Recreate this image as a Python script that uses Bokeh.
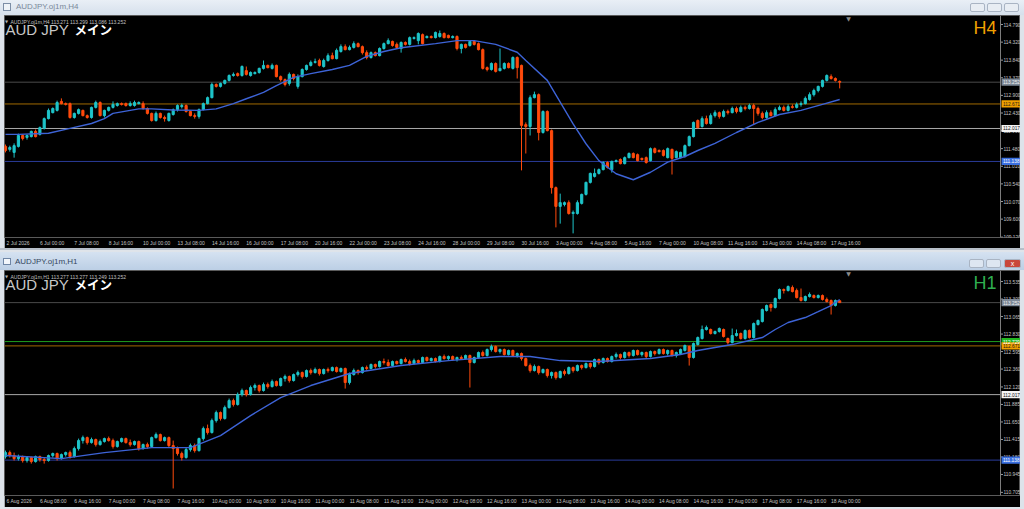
from bokeh.plotting import figure
from bokeh.models import ColumnDataSource, Range1d, FixedTicker, Span, Div
from bokeh.layouts import column
from bokeh.embed import file_html
from bokeh.resources import INLINE
from bokeh.core.properties import value

# ------------------------------------------------------------------ data
# H4 chart (AUDJPY), 195 bars
top_open = [
 111.54,111.46,111.38,111.54,111.83,111.78,111.80,111.94,111.86,112.02,
 112.28,112.44,112.50,112.74,112.68,112.68,112.31,112.42,112.50,112.36,
 112.31,112.58,112.71,112.36,112.50,112.58,112.63,112.68,112.68,112.63,
 112.63,112.68,112.68,112.55,112.42,112.23,112.42,112.31,112.23,112.39,
 112.52,112.60,112.63,112.47,112.36,112.34,112.52,112.68,112.84,113.19,
 113.14,113.22,113.30,113.43,113.48,113.43,113.56,113.43,113.48,113.51,
 113.62,113.70,113.62,113.70,113.40,113.32,113.22,113.46,113.14,113.40,
 113.59,113.70,113.78,113.83,113.67,113.83,113.96,113.88,114.07,114.20,
 114.12,114.18,114.28,114.20,114.04,113.91,114.04,113.96,114.15,114.28,
 114.34,114.26,114.15,114.31,114.26,114.42,114.36,114.52,114.44,114.47,
 114.44,114.47,114.55,114.50,114.44,114.47,114.15,114.26,114.23,114.34,
 114.28,114.12,113.64,113.59,113.75,113.56,113.62,113.75,113.62,113.91,
 113.70,112.12,112.07,112.84,112.92,111.91,112.47,111.96,110.44,109.94,
 109.99,110.04,109.75,109.75,110.02,110.26,110.58,110.74,110.82,110.92,
 111.11,110.92,111.14,111.19,111.08,111.24,111.35,111.32,111.22,111.24,
 111.16,111.48,111.43,111.43,111.24,111.46,111.24,111.24,111.27,111.56,
 111.80,112.23,112.07,112.28,112.15,112.36,112.44,112.34,112.47,112.44,
 112.55,112.47,112.58,112.55,112.63,112.55,112.42,112.31,112.44,112.36,
 112.52,112.58,112.50,112.60,112.58,112.66,112.68,112.79,112.92,113.03,
 113.14,113.30,113.40,113.35,113.271]
top_high = [
 111.59,111.56,111.62,111.88,111.86,111.86,111.96,111.99,112.07,112.31,
 112.55,112.58,112.76,112.82,112.71,112.71,112.44,112.55,112.52,112.39,
 112.60,112.76,112.74,112.52,112.60,112.74,112.71,112.71,112.71,112.74,
 112.76,112.74,112.74,112.58,112.44,112.47,112.44,112.36,112.44,112.55,
 112.66,112.68,112.66,112.50,112.42,112.55,112.71,112.87,113.24,113.22,
 113.24,113.32,113.46,113.51,113.51,113.70,113.67,113.54,113.54,113.64,
 113.83,113.72,113.75,113.72,113.43,113.35,113.51,113.48,113.46,113.62,
 113.72,113.83,113.88,113.88,113.88,114.02,114.04,114.15,114.26,114.26,
 114.23,114.34,114.31,114.23,114.10,114.07,114.07,114.18,114.31,114.42,
 114.36,114.31,114.34,114.34,114.47,114.47,114.58,114.55,114.50,114.50,
 114.60,114.63,114.58,114.52,114.50,114.50,114.28,114.28,114.36,114.36,
 114.31,114.15,113.67,113.78,113.78,114.15,113.78,113.78,113.94,113.94,
 113.72,112.18,112.90,113.00,112.95,112.50,112.50,111.99,110.47,110.28,
 110.07,110.10,109.83,110.10,110.28,110.60,110.84,110.95,110.95,111.14,
 111.14,111.16,111.19,111.22,111.27,111.38,111.38,111.35,111.24,111.27,
 111.51,111.51,111.46,111.46,111.51,111.48,111.43,111.40,111.59,111.83,
 112.20,112.26,112.34,112.36,112.42,112.50,112.47,112.52,112.52,112.60,
 112.60,112.63,112.63,112.68,112.68,112.60,112.47,112.50,112.50,112.58,
 112.63,112.63,112.66,112.66,112.71,112.74,112.87,112.98,113.08,113.16,
 113.32,113.46,113.46,113.38,113.299]
top_low = [
 111.38,111.40,111.24,111.51,111.70,111.72,111.78,111.78,111.83,111.99,
 112.26,112.42,112.47,112.66,112.63,112.28,112.28,112.39,112.34,112.28,
 112.28,112.55,112.34,112.31,112.47,112.55,112.60,112.63,112.60,112.60,
 112.60,112.66,112.52,112.39,112.20,112.20,112.28,112.20,112.20,112.36,
 112.47,112.55,112.44,112.34,112.28,112.28,112.50,112.66,112.82,113.11,
 113.11,113.19,113.27,113.40,113.40,113.40,113.43,113.40,113.46,113.48,
 113.59,113.62,113.59,113.38,113.27,113.14,113.16,113.30,113.08,113.38,
 113.56,113.67,113.75,113.67,113.64,113.80,113.86,113.86,114.04,114.10,
 114.10,114.15,114.18,113.99,113.86,113.88,113.94,113.94,114.12,114.26,
 114.20,114.15,114.04,114.23,114.23,114.39,114.26,114.26,114.42,114.42,
 114.42,114.44,114.42,114.42,114.42,114.10,114.02,114.15,114.20,114.23,
 114.10,113.59,113.54,113.56,113.51,113.54,113.59,113.62,113.59,113.35,
 110.90,111.35,111.83,112.82,111.70,111.88,111.94,110.28,109.38,109.48,
 109.94,109.72,109.22,109.72,109.99,110.23,110.55,110.71,110.79,110.90,
 110.95,110.84,111.11,111.06,111.06,111.22,111.22,111.14,111.16,111.08,
 111.14,111.35,111.38,111.27,111.22,110.79,111.22,111.22,111.24,111.54,
 111.78,112.02,112.04,112.12,112.12,112.31,112.28,112.31,112.39,112.42,
 112.42,112.44,112.50,112.52,112.12,112.36,112.26,112.28,112.34,112.34,
 112.50,112.47,112.47,112.55,112.55,112.60,112.66,112.76,112.87,112.98,
 113.11,113.27,113.32,113.27,113.086]
top_close = [
 111.43,111.51,111.56,111.83,111.75,111.83,111.94,111.80,112.04,112.28,
 112.50,112.55,112.71,112.68,112.66,112.31,112.42,112.52,112.36,112.31,
 112.58,112.71,112.36,112.50,112.58,112.66,112.68,112.66,112.63,112.68,
 112.71,112.71,112.55,112.42,112.23,112.42,112.31,112.28,112.42,112.52,
 112.63,112.63,112.47,112.36,112.34,112.52,112.68,112.84,113.19,113.14,
 113.22,113.30,113.43,113.46,113.43,113.67,113.46,113.51,113.51,113.62,
 113.70,113.64,113.70,113.40,113.32,113.19,113.46,113.35,113.40,113.59,
 113.70,113.78,113.80,113.70,113.83,113.96,113.88,114.10,114.20,114.12,
 114.18,114.28,114.20,114.04,113.91,114.04,113.96,114.15,114.28,114.36,
 114.23,114.18,114.31,114.26,114.44,114.44,114.55,114.28,114.47,114.44,
 114.58,114.55,114.44,114.44,114.47,114.15,114.26,114.18,114.34,114.26,
 114.12,113.62,113.59,113.75,113.54,113.62,113.75,113.64,113.91,113.64,
 112.10,112.07,112.84,112.92,111.91,112.47,111.96,110.44,109.94,110.04,
 110.04,109.75,109.78,110.04,110.26,110.58,110.82,110.82,110.92,111.11,
 110.98,111.14,111.16,111.08,111.24,111.35,111.24,111.16,111.19,111.11,
 111.48,111.38,111.40,111.30,111.48,111.22,111.40,111.38,111.56,111.80,
 112.18,112.04,112.28,112.15,112.36,112.44,112.34,112.47,112.44,112.55,
 112.47,112.58,112.55,112.63,112.55,112.42,112.31,112.44,112.36,112.52,
 112.58,112.50,112.60,112.58,112.66,112.68,112.82,112.92,113.03,113.14,
 113.30,113.43,113.35,113.30,113.252]
top_ma_idx = [0, 3, 10, 15, 20, 23, 25, 28, 31, 34, 39, 45, 49, 53, 56, 60, 63, 67, 71, 76, 80, 84, 88, 92,
              100, 105, 109, 114, 119, 121, 126, 129, 132, 135, 138, 142, 146, 150, 154, 158, 161, 165,
              170, 175, 180, 185, 190, 194]
top_ma_val = [111.86, 111.86, 111.89, 112.02, 112.15, 112.28, 112.42, 112.48, 112.54, 112.54, 112.51, 112.50,
              112.54, 112.68, 112.81, 112.98, 113.16, 113.38, 113.48, 113.59, 113.70, 113.94, 114.07, 114.17,
              114.28, 114.36, 114.36, 114.26, 114.05, 113.83, 113.30, 112.72, 112.14, 111.61, 111.16, 110.81,
              110.65, 110.85, 111.12, 111.27, 111.43, 111.62, 111.91, 112.18, 112.39, 112.50, 112.66, 112.79]
top_yticks = [114.790, 114.320, 113.840, 113.370, 112.900, 112.430, 111.960, 111.480, 111.010,
              110.540, 110.070, 109.600, 109.120]
top_time_idx = [0] + [8 * k for k in range(1, 25)]
top_time_labels = ["2 Jul 2026", "6 Jul 00:00", "7 Jul 08:00", "8 Jul 16:00", "10 Jul 00:00", "13 Jul 08:00",
                   "14 Jul 16:00", "16 Jul 00:00", "17 Jul 08:00", "20 Jul 16:00", "22 Jul 00:00",
                   "23 Jul 08:00", "24 Jul 16:00", "28 Jul 00:00", "29 Jul 08:00", "30 Jul 16:00",
                   "3 Aug 00:00", "4 Aug 08:00", "5 Aug 16:00", "7 Aug 00:00", "10 Aug 08:00",
                   "11 Aug 16:00", "13 Aug 00:00", "14 Aug 08:00", "17 Aug 16:00"]
top_levels = [113.252, 112.671, 112.017, 111.138]
top_header = "AUDJPY.oj1m,H4  113.271 113.299 113.086 113.252"

# H1 chart (AUDJPY), 195 bars
bot_open = [
 111.185,111.239,111.199,111.158,111.185,111.132,111.172,111.118,111.185,111.145,
 111.132,111.199,111.226,111.158,111.212,111.239,111.185,111.293,111.400,111.440,
 111.373,111.414,111.346,111.387,111.427,111.400,111.320,111.387,111.427,111.373,
 111.346,111.387,111.293,111.346,111.320,111.440,111.481,111.400,111.440,111.333,
 111.293,111.226,111.172,111.279,111.333,111.266,111.427,111.561,111.508,111.669,
 111.776,111.696,111.843,111.937,111.884,112.018,112.072,112.018,112.112,112.139,
 112.072,112.152,112.125,112.192,112.139,112.233,112.260,112.206,112.286,112.313,
 112.260,112.340,112.313,112.354,112.300,112.354,112.340,112.380,112.327,112.367,
 112.179,112.286,112.340,112.313,112.380,112.367,112.421,112.394,112.461,112.448,
 112.407,112.461,112.434,112.488,112.461,112.434,112.474,112.448,112.515,112.474,
 112.501,112.461,112.528,112.501,112.528,112.488,112.515,112.501,112.542,112.448,
 112.515,112.582,112.542,112.622,112.662,112.595,112.622,112.555,112.609,112.542,
 112.568,112.501,112.407,112.340,112.394,112.313,112.354,112.273,112.313,112.246,
 112.327,112.300,112.380,112.340,112.407,112.380,112.434,112.394,112.488,112.448,
 112.501,112.461,112.528,112.555,112.515,112.582,112.542,112.609,112.555,112.582,
 112.528,112.595,112.568,112.622,112.568,112.609,112.542,112.568,112.609,112.662,
 112.515,112.689,112.770,112.891,112.891,112.837,112.864,112.891,112.770,112.716,
 112.810,112.837,112.770,112.877,112.783,112.958,112.998,113.146,113.226,113.186,
 113.307,113.428,113.414,113.455,113.414,113.320,113.280,113.334,113.347,113.320,
 113.347,113.294,113.280,113.213,113.277]
bot_high = [
 111.266,111.266,111.239,111.212,111.199,111.185,111.185,111.199,111.199,111.172,
 111.212,111.239,111.239,111.226,111.252,111.266,111.320,111.427,111.467,111.454,
 111.440,111.427,111.414,111.440,111.454,111.427,111.400,111.440,111.440,111.414,
 111.400,111.400,111.360,111.373,111.454,111.508,111.494,111.454,111.454,111.400,
 111.320,111.252,111.306,111.360,111.360,111.440,111.588,111.615,111.696,111.803,
 111.790,111.870,111.964,111.964,112.045,112.098,112.085,112.139,112.166,112.152,
 112.179,112.179,112.219,112.206,112.246,112.286,112.273,112.300,112.340,112.327,
 112.354,112.367,112.380,112.367,112.367,112.380,112.394,112.394,112.380,112.380,
 112.313,112.367,112.354,112.394,112.407,112.434,112.434,112.474,112.501,112.488,
 112.474,112.474,112.501,112.515,112.488,112.501,112.488,112.528,112.528,112.515,
 112.515,112.542,112.555,112.542,112.542,112.528,112.542,112.555,112.555,112.528,
 112.595,112.609,112.636,112.689,112.676,112.636,112.636,112.622,112.622,112.582,
 112.582,112.515,112.434,112.421,112.407,112.367,112.367,112.327,112.327,112.340,
 112.354,112.394,112.394,112.421,112.421,112.448,112.448,112.501,112.501,112.515,
 112.515,112.542,112.582,112.568,112.595,112.595,112.622,112.622,112.595,112.595,
 112.609,112.609,112.636,112.636,112.622,112.622,112.595,112.636,112.689,112.676,
 112.716,112.797,112.944,112.944,112.904,112.877,112.918,112.904,112.783,112.904,
 112.891,112.850,112.891,112.891,112.985,113.025,113.173,113.226,113.240,113.320,
 113.441,113.441,113.482,113.482,113.441,113.441,113.347,113.388,113.361,113.361,
 113.361,113.320,113.294,113.294,113.277]
bot_low = [
 111.158,111.172,111.132,111.132,111.105,111.105,111.091,111.105,111.118,111.091,
 111.118,111.172,111.132,111.145,111.185,111.158,111.172,111.266,111.360,111.346,
 111.360,111.320,111.333,111.373,111.387,111.293,111.306,111.373,111.360,111.320,
 111.333,111.266,111.279,111.293,111.306,111.427,111.387,111.387,111.306,110.757,
 111.199,111.132,111.158,111.252,111.239,111.252,111.400,111.481,111.494,111.642,
 111.669,111.682,111.830,111.857,111.870,111.991,111.991,112.004,112.072,112.045,
 112.058,112.098,112.112,112.125,112.125,112.192,112.179,112.192,112.260,112.233,
 112.246,112.286,112.300,112.273,112.286,112.313,112.327,112.313,112.313,112.098,
 112.152,112.273,112.286,112.300,112.340,112.354,112.367,112.380,112.421,112.394,
 112.394,112.421,112.421,112.448,112.407,112.421,112.434,112.434,112.461,112.461,
 112.448,112.448,112.488,112.474,112.474,112.461,112.488,112.488,112.112,112.434,
 112.501,112.528,112.528,112.595,112.582,112.568,112.542,112.542,112.528,112.515,
 112.474,112.394,112.313,112.327,112.286,112.300,112.246,112.233,112.219,112.233,
 112.273,112.286,112.313,112.327,112.354,112.367,112.367,112.380,112.421,112.434,
 112.448,112.448,112.501,112.488,112.501,112.515,112.528,112.542,112.528,112.501,
 112.515,112.542,112.555,112.555,112.542,112.528,112.515,112.555,112.595,112.407,
 112.501,112.676,112.756,112.877,112.824,112.824,112.850,112.783,112.689,112.703,
 112.797,112.756,112.756,112.770,112.770,112.944,112.985,113.132,113.132,113.173,
 113.294,113.374,113.401,113.388,113.307,113.267,113.267,113.320,113.307,113.307,
 113.280,113.253,113.092,113.200,113.249]
bot_close = [
 111.239,111.199,111.158,111.185,111.132,111.172,111.118,111.185,111.145,111.132,
 111.199,111.226,111.158,111.212,111.239,111.185,111.293,111.400,111.440,111.373,
 111.414,111.346,111.387,111.427,111.400,111.320,111.387,111.427,111.373,111.346,
 111.387,111.293,111.346,111.320,111.440,111.481,111.400,111.440,111.333,111.293,
 111.226,111.172,111.279,111.333,111.266,111.427,111.561,111.508,111.669,111.776,
 111.696,111.843,111.937,111.884,112.018,112.072,112.018,112.112,112.139,112.072,
 112.152,112.125,112.192,112.139,112.233,112.260,112.206,112.286,112.313,112.260,
 112.340,112.313,112.354,112.300,112.354,112.340,112.380,112.327,112.367,112.179,
 112.286,112.340,112.313,112.380,112.367,112.421,112.394,112.461,112.448,112.407,
 112.461,112.434,112.488,112.461,112.434,112.474,112.448,112.515,112.474,112.501,
 112.461,112.528,112.501,112.528,112.488,112.515,112.501,112.542,112.448,112.515,
 112.582,112.542,112.622,112.662,112.595,112.622,112.555,112.609,112.542,112.568,
 112.501,112.407,112.340,112.394,112.313,112.354,112.273,112.313,112.246,112.327,
 112.300,112.380,112.340,112.407,112.380,112.434,112.394,112.488,112.448,112.501,
 112.461,112.528,112.555,112.515,112.582,112.542,112.609,112.555,112.582,112.528,
 112.595,112.568,112.622,112.568,112.609,112.542,112.582,112.622,112.676,112.515,
 112.703,112.783,112.891,112.918,112.837,112.864,112.904,112.797,112.716,112.810,
 112.837,112.770,112.877,112.783,112.971,113.012,113.159,113.213,113.186,113.307,
 113.428,113.414,113.468,113.401,113.320,113.280,113.334,113.361,113.320,113.347,
 113.294,113.267,113.213,113.280,113.252]
bot_ma_idx = [0, 13, 23, 34, 43, 50, 57, 64, 71, 80, 92, 103, 115, 122, 129, 138, 150, 157, 161, 165,
              169, 172, 176, 179, 182, 186, 189, 192, 194]
bot_ma_val = [111.199, 111.158, 111.239, 111.306, 111.306, 111.467, 111.736, 111.978, 112.139, 112.300,
              112.407, 112.474, 112.528, 112.528, 112.474, 112.461, 112.501, 112.555, 112.609, 112.649,
              112.689, 112.730, 112.783, 112.891, 112.985, 113.052, 113.132, 113.213, 113.294]
bot_yticks = [113.535, 113.300, 113.065, 112.830, 112.595, 112.360, 112.120, 111.885, 111.650,
              111.415, 111.180, 110.945, 110.705]
bot_time_idx = [0] + [8 * k for k in range(1, 25)]
bot_time_labels = ["6 Aug 2026", "6 Aug 08:00", "6 Aug 16:00", "7 Aug 00:00", "7 Aug 08:00", "7 Aug 16:00",
                   "10 Aug 00:00", "10 Aug 08:00", "10 Aug 16:00", "11 Aug 00:00", "11 Aug 08:00",
                   "11 Aug 16:00", "12 Aug 00:00", "12 Aug 08:00", "12 Aug 16:00", "13 Aug 00:00",
                   "13 Aug 08:00", "13 Aug 16:00", "14 Aug 00:00", "14 Aug 08:00", "14 Aug 16:00",
                   "17 Aug 00:00", "17 Aug 08:00", "17 Aug 16:00", "18 Aug 00:00"]
bot_levels = [113.252, 112.729, 112.671, 112.017, 111.138]
bot_header = "AUDJPY.oj1m,H1  113.277 113.277 113.249 113.252"

# ------------------------------------------------------------------ style
FONT = "Liberation Sans"
JP_FONT = "Noto Sans CJK JP"
BULL = "#1ec4c9"
BEAR = "#ff4a0c"
MA_COLOR = "#3d63d6"
AXIS_GREY = "#7c7c7c"
LABEL_GREY = "#c4c4c4"
LEVEL_STYLE = {
    113.252: ("#4a4a4a", "#7d8896", "#f0f0f0"),
    112.729: ("#1e9e1e", "#22b822", "#ffffff"),
    112.671: ("#a06a00", "#f0a000", "#1a1a1a"),
    112.017: ("#a8a8a8", "#f4f4f4", "#101010"),
    111.138: ("#2a3c9a", "#3a6fe0", "#ffffff"),
}

FIG_W = 1016          # black chart window, page x 4..1020
PPB = 4.3             # pixels per bar
FIRST_BAR_PX = 5      # page x of bar 0
FRAME_LEFT_PX = 4     # page x of the chart frame
SCALE_PX = 1000       # page x of the price scale line
CW = {" ": 0.278, ":": 0.278, "A": 0.667, "J": 0.5, "u": 0.556, "g": 0.556, "l": 0.222}


def text_w(s, fs):
    return sum(CW.get(ch, 0.556) for ch in s) * fs


def build(o, h, l, c, ma_i, ma_v, yticks, t_idx, t_lab, levels, header, tf, tf_color,
          y0, y1, height, bottom_b, frame_top_px):
    frame_h = height - bottom_b
    x0 = (FRAME_LEFT_PX - FIRST_BAR_PX) / PPB
    x1 = x0 + FIG_W / PPB
    ppy = frame_h / (y1 - y0)

    def X(px):
        return x0 + (px - FRAME_LEFT_PX) / PPB

    def Y(py):
        return y1 - (py - frame_top_px) / ppy

    p = figure(width=FIG_W, height=height, x_range=Range1d(x0, x1), y_range=Range1d(y0, y1),
               output_backend="svg", toolbar_location=None, y_axis_location=None,
               min_border_left=0, min_border_top=0, min_border_right=0, min_border_bottom=bottom_b,
               background_fill_color="black", border_fill_color="black",
               outline_line_color="#5a5a5a", outline_line_width=1, margin=(0, 4, 0, 4))
    p.xgrid.visible = False
    p.ygrid.visible = False

    n = len(c)
    src = ColumnDataSource(dict(
        x=list(range(n)), h=h, l=l,
        top=[max(a, b) for a, b in zip(o, c)],
        bot=[min(a, b) for a, b in zip(o, c)],
        col=[BULL if cc >= oo else BEAR for oo, cc in zip(o, c)]))

    sx = X(SCALE_PX)
    k = len(levels)
    # horizontal price levels (stop at the price scale)
    p.segment(x0=[x0] * k, y0=levels, x1=[sx] * k, y1=levels,
              line_color=[LEVEL_STYLE[v][0] for v in levels], line_width=1)

    p.segment(x0="x", y0="l", x1="x", y1="h", line_color="col", line_width=1, source=src)
    p.vbar(x="x", width=0.5, top="top", bottom="bot", fill_color="col", line_color="col",
           line_width=1, source=src)
    p.line(ma_i, ma_v, line_color=MA_COLOR, line_width=1.4)

    # price scale on the right (MT4 style): line, ticks, labels, level boxes
    p.add_layout(Span(location=sx, dimension="height", line_color=AXIS_GREY, line_width=1))
    m = len(yticks)
    p.segment(x0=[sx] * m, y0=yticks, x1=[X(SCALE_PX + 2.5)] * m, y1=yticks,
              line_color="#9a9a9a", line_width=1)
    p.text(x=[X(SCALE_PX + 3)] * m, y=yticks, text=[f"{t:.3f}" for t in yticks],
           text_font=value(FONT), text_font_size="4.8px", text_color=LABEL_GREY,
           text_baseline="middle", text_align="left")
    half = 3.6 / ppy
    p.quad(left=[X(SCALE_PX + 1)] * k, right=[X(SCALE_PX + 19.5)] * k,
           bottom=[v - half for v in levels], top=[v + half for v in levels],
           fill_color=[LEVEL_STYLE[v][1] for v in levels], line_color=None)
    p.text(x=[X(SCALE_PX + 2.5)] * k, y=levels, text=[f"{v:.3f}" for v in levels],
           text_font=value(FONT), text_font_size="4.8px",
           text_color=[LEVEL_STYLE[v][2] for v in levels],
           text_baseline="middle", text_align="left")

    # x axis: MT4 time labels start at their bar
    ticks, over = [], {}
    for ti, lab in zip(t_idx, t_lab):
        start_px = max(FIRST_BAR_PX + PPB * ti, FRAME_LEFT_PX + 2)
        pos = round(X(start_px + text_w(lab, 5) / 2), 3)
        ticks.append(pos)
        over[pos] = lab
    xa = p.xaxis[0]
    xa.ticker = FixedTicker(ticks=ticks, minor_ticks=[])
    xa.major_label_overrides = over
    xa.axis_line_color = None
    xa.major_tick_out = 0
    xa.major_tick_in = 0
    xa.minor_tick_out = 0
    xa.minor_tick_in = 0
    xa.major_label_standoff = 2
    xa.major_label_text_font = FONT
    xa.major_label_text_font_size = "5px"
    xa.major_label_text_color = LABEL_GREY

    # header texts
    p.text(x=[X(6)], y=[Y(frame_top_px + 6)], text=["\u25bc"], text_font=value("DejaVu Sans"),
           text_font_size="4px", text_color="#b0b0b0", text_baseline="middle", text_align="center")
    p.text(x=[X(10)], y=[Y(frame_top_px + 6)], text=[header], text_font=value(FONT),
           text_font_size="5px", text_color="#c0c0c0", text_baseline="middle", text_align="left")
    p.text(x=[X(5)], y=[Y(frame_top_px + 14)], text=["AUD JPY"], text_font=value(FONT),
           text_font_size="15px", text_color="#c8c8c8", text_baseline="middle", text_align="left")
    p.text(x=[X(74)], y=[Y(frame_top_px + 14)], text=["メイン"], text_font=value(JP_FONT),
           text_font_size="12.5px", text_font_style="bold", text_color="#ffffff",
           text_baseline="middle", text_align="left")
    p.text(x=[X(996)], y=[Y(frame_top_px + 12)], text=[tf], text_font=value(FONT),
           text_font_size="18px", text_color=tf_color, text_baseline="middle", text_align="right")
    p.text(x=[X(848)], y=[Y(frame_top_px + 3)], text=["\u25bc"], text_font=value("DejaVu Sans"),
           text_font_size="6px", text_color="#8a8a8a", text_baseline="middle", text_align="center")
    return p


p1 = build(top_open, top_high, top_low, top_close, top_ma_idx, top_ma_val, top_yticks,
           top_time_idx, top_time_labels, top_levels, top_header, "H4", "#f2a000",
           y0=109.11, y1=115.03, height=233, bottom_b=11, frame_top_px=15)
p2 = build(bot_open, bot_high, bot_low, bot_close, bot_ma_idx, bot_ma_val, bot_yticks,
           bot_time_idx, bot_time_labels, bot_levels, bot_header, "H1", "#2fae50",
           y0=110.663, y1=113.683, height=237, bottom_b=12, frame_top_px=270)

BTN = ("position:absolute;top:{t}px;left:{l}px;width:{w}px;height:{h}px;border:1px solid #a9b4c3;"
       "border-radius:2px;background:{bg};box-sizing:border-box;")

div1_html = (
    '<div style="position:relative;width:1024px;height:15px;overflow:hidden;'
    'background:linear-gradient(#e9eff6,#d6e0ec);font-family:\'Liberation Sans\';">'
    '<span style="position:absolute;left:3px;top:3px;width:8px;height:8px;border:1px solid #7c8ea6;'
    'box-sizing:border-box;background:#eef3f8"></span>'
    '<span style="position:absolute;left:16px;top:2px;font-size:8px;line-height:10px;color:#7a889a">'
    'AUDJPY.oj1m,H4</span>'
    + ''.join('<span style="' + BTN.format(t=3, l=lft, w=15, h=9, bg="#e8edf3") + '"></span>'
              for lft in (970, 987, 1004)) +
    '</div>')

div2_html = (
    '<div style="position:relative;width:1024px;height:22px;overflow:hidden;background:#dfe4ea;'
    'font-family:\'Liberation Sans\';">'
    '<div style="position:absolute;left:0;top:0;width:1024px;height:2px;background:#b7bfc9"></div>'
    '<div style="position:absolute;left:0;top:4px;width:1024px;height:18px;'
    'background:linear-gradient(#d5e2f1,#bccfe5)"></div>'
    '<span style="position:absolute;left:3px;top:10px;width:8px;height:7px;border:1px solid #6f86a6;'
    'box-sizing:border-box;background:#f2f6fb"></span>'
    '<span style="position:absolute;left:15px;top:9px;font-size:8px;line-height:10px;color:#34465e">'
    'AUDJPY.oj1m,H1</span>'
    '<span style="' + BTN.format(t=11, l=969, w=15, h=9, bg="#dde6f1") + '"></span>'
    '<span style="' + BTN.format(t=11, l=986, w=15, h=9, bg="#dde6f1") + '"></span>'
    '<span style="' + BTN.format(t=11, l=1004, w=17, h=9, bg="#c9473b") +
    'color:#ffffff;font-size:7px;line-height:7px;text-align:center;">x</span>'
    '</div>')

div3_html = ('<div style="position:relative;width:1024px;height:2px;overflow:hidden;background:#d3d9e1">'
             '<div style="position:absolute;left:62px;top:0;width:58px;height:2px;background:#ffffff"></div>'
             '</div>')

div1 = Div(text=div1_html, width=1024, height=15, margin=0)
div2 = Div(text=div2_html, width=1024, height=22, margin=0)
div3 = Div(text=div3_html, width=1024, height=2, margin=0)

layout = column(div1, p1, div2, p2, div3, spacing=0, margin=0,
                styles={"background-color": "#dde3ea"})

open("out.html", "w").write(file_html(layout, INLINE))
